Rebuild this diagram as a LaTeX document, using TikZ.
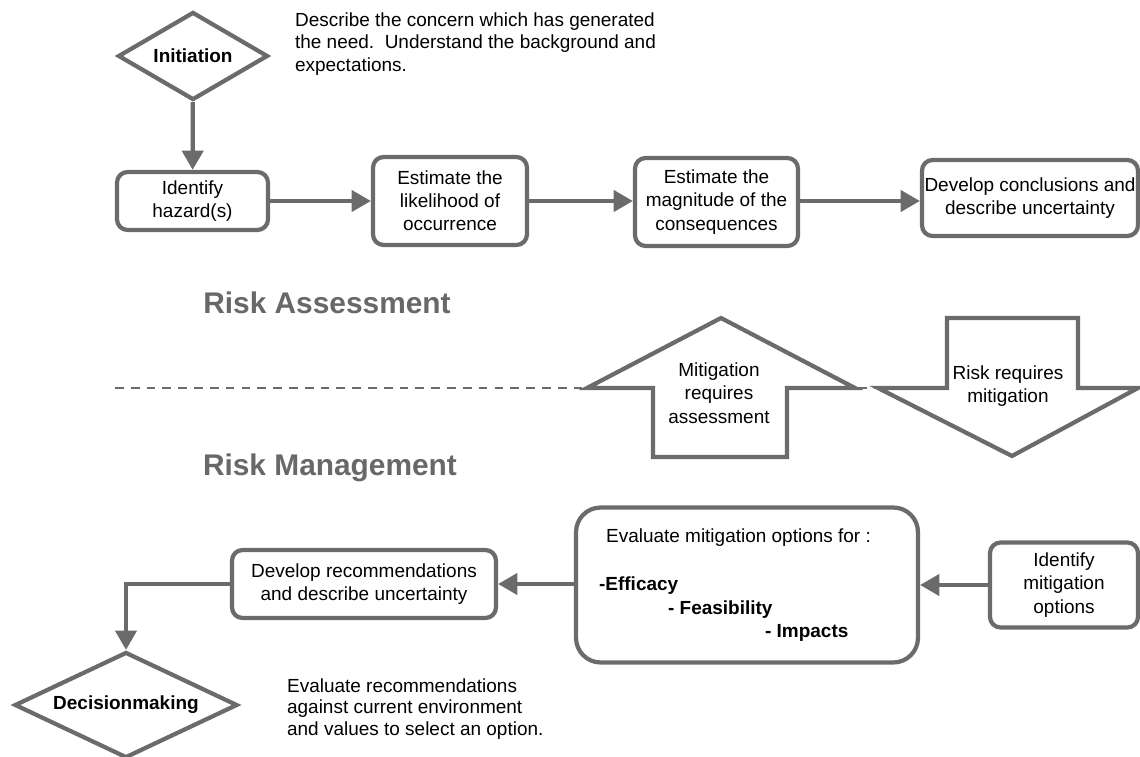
\documentclass[tikz,border=0pt]{standalone}
\usepackage{fontspec}
\setmainfont{Liberation Sans}
\usetikzlibrary{shapes.geometric,arrows.meta}
\definecolor{linegray}{HTML}{6B6B6B}
\definecolor{headgray}{HTML}{686868}

\begin{document}
\begin{tikzpicture}[x=0.02cm,y=-0.02cm,>={Triangle[length=11pt,width=12pt]},line width=2.4pt,
    box node/.style={draw=linegray,fill=white,rounded corners=6pt,align=center,inner sep=0pt,font=\fontsize{10.8}{13.2}\selectfont},
    dec node/.style={diamond,draw=linegray,fill=white,inner sep=0pt,font=\fontsize{10.8}{13}\selectfont\bfseries},
    note/.style={align=left,anchor=north west,inner sep=0pt,font=\fontsize{10.8}{12.6}\selectfont},
    head/.style={font=\fontsize{17}{20}\selectfont\bfseries,text=headgray},
    block/.style={draw=linegray,fill=white,line join=miter},
    conn/.style={draw=linegray,->}]
    \useasboundingbox (0,0) rectangle (1140,757);

    % risk assessment
    \node[dec node,shape aspect=1.7,minimum width=3cm,minimum height=1.76cm] (init) at (193,56) {Initiation};
    \node[note] (initnote) at (293,11) {Describe the concern which has generated\\the need.\ \ Understand the background and\\expectations.};
    \node[box node,minimum width=3.02cm,minimum height=1.16cm] (haz) at (192.5,201) {Identify\\hazard(s)};
    \node[box node,minimum width=3.08cm,minimum height=1.76cm] (like) at (450,201) {Estimate the\\likelihood of\\occurrence};
    \node[box node,minimum width=3.26cm,minimum height=1.76cm] (magn) at (716.5,202) {Estimate the\\magnitude of the\\consequences};
    \node[box node,minimum width=4.32cm,minimum height=1.52cm] (concl) at (1030,198) {Develop conclusions and\\describe uncertainty};

    \draw[conn] (init) -- (haz);
    \draw[conn] (haz) -- (like.west |- haz);
    \draw[conn] (like) -- (magn.west |- like);
    \draw[conn] (magn.east |- like) -- (concl.west |- like);

    \node[head] (ra) at (327,303) {Risk Assessment};

    % border between the two parts
    \coordinate (lineL) at (115,388);
    \coordinate (lineR) at (880,388);
    \draw[linegray,line width=1pt,dash pattern=on 5pt off 4pt] (lineL) -- (lineR);

    \draw[block] (721,318) -- (855,388) -- (787,388) -- (787,457) -- (653,457) -- (653,388) -- (587,388) -- cycle;
    \node[align=center,inner sep=0pt,font=\fontsize{10.8}{13.4}\selectfont] (upnote) at (719,393) {Mitigation\\requires\\assessment};
    \draw[block] (947,318) -- (1078,318) -- (1078,388) -- (1138,388) -- (1012,456) -- (878,388) -- (947,388) -- cycle;
    \node[align=center,inner sep=0pt,font=\fontsize{10.8}{13.4}\selectfont] (downnote) at (1008,386) {Risk requires\\mitigation};

    \node[head] (rm) at (330,468) {Risk Management};

    % risk management
    \node[box node,minimum width=2.96cm,minimum height=1.7cm] (miti) at (1064,585) {Identify\\mitigation\\options};
    \node[box node,rounded corners=14pt,minimum width=6.84cm,minimum height=3.1cm] (eval) at (747,585) {};
    \node[anchor=west,inner sep=0pt,font=\fontsize{10.8}{13}\selectfont] (evalhd) at (604,538) {Evaluate mitigation options for :};
    \node[anchor=west,inner sep=0pt,font=\fontsize{10.8}{13}\selectfont\bfseries] (eff) at (597,586) {-Efficacy};
    \node[anchor=west,inner sep=0pt,font=\fontsize{10.8}{13}\selectfont\bfseries] (feas) at (666,610) {- Feasibility};
    \node[anchor=west,inner sep=0pt,font=\fontsize{10.8}{13}\selectfont\bfseries] (imp) at (763,633) {- Impacts};
    \node[box node,minimum width=5.28cm,minimum height=1.36cm] (recs) at (364,584) {Develop recommendations\\and describe uncertainty};
    \node[dec node,shape aspect=2.1,minimum width=4.46cm,minimum height=2.12cm] (dec) at (126,705) {Decisionmaking};
    \node[note,font=\fontsize{10.8}{12}\selectfont] (decnote) at (285,677) {Evaluate recommendations\\against current environment\\and values to select an option.};

    \draw[conn] (miti) -- (eval);
    \draw[conn] (eval.west |- recs) -- (recs);
    \draw[conn] (recs) -| (dec);
\end{tikzpicture}
\end{document}
